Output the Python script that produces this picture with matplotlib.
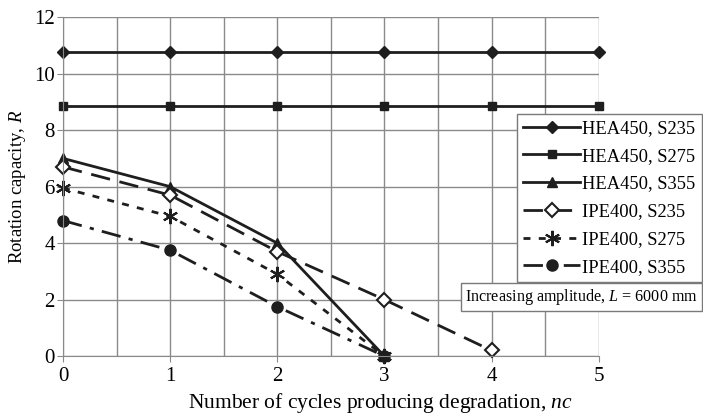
import numpy as np
import matplotlib.pyplot as plt

plt.rcParams['font.family'] = ['Liberation Serif', 'DejaVu Serif']
plt.rcParams['mathtext.fontset'] = 'custom'
plt.rcParams['mathtext.it'] = 'Liberation Serif:italic'
plt.rcParams['mathtext.rm'] = 'Liberation Serif'

# data
nc_hea = [0, 1, 2, 3, 4, 5]
hea_s235 = [10.78, 10.78, 10.78, 10.78, 10.78, 10.78]
hea_s275 = [8.85, 8.85, 8.85, 8.85, 8.85, 8.85]
nc_hea355 = [0, 1, 2, 3]
hea_s355 = [7.0, 6.0, 4.0, 0.0]

nc_ipe235 = [0, 1, 2, 3, 4]
ipe_s235 = [6.7, 5.7, 3.7, 2.0, 0.2]
nc_ipe = [0, 1, 2, 3]
ipe_s275 = [5.95, 4.95, 2.9, 0.0]
ipe_s355 = [4.8, 3.75, 1.75, 0.0]

labels = ['HEA450, S235', 'HEA450, S275', 'HEA450, S355',
          'IPE400, S235', 'IPE400, S275', 'IPE400, S355']

col = '#1e1e1e'
fig = plt.figure(figsize=(7.03, 4.18), dpi=100)
ax = fig.add_axes([0.0896, 0.148, 0.762, 0.811])

lw = 2.0
ax.plot(nc_hea, hea_s235, color=col, lw=lw, marker='D', ms=6, label=labels[0])
ax.plot(nc_hea, hea_s275, color=col, lw=lw, marker='s', ms=6, label=labels[1])
ax.plot(nc_hea355, hea_s355, color=col, lw=lw, marker='^', ms=7, label=labels[2])
ax.plot(nc_ipe235, ipe_s235, color=col, lw=lw, marker='D', ms=7, mfc='white',
        mew=1.5, dashes=(7, 3.5), label=labels[3])
ax.plot(nc_ipe, ipe_s275, color=col, lw=lw, marker=(6, 2, 0), ms=11, mew=1.5,
        dashes=(2.5, 3), label=labels[4])
ax.plot(nc_ipe, ipe_s355, color=col, lw=lw, marker='o', ms=8,
        dashes=(7, 3, 1.5, 3), label=labels[5])

ax.set_xlim(0, 5)
ax.set_ylim(0, 12)
ax.set_xticks(np.arange(0, 6, 1))
ax.set_xticks(np.arange(0, 5.5, 0.5), minor=True)
ax.set_yticks(np.arange(0, 13, 2))
ax.grid(True, which='both', color='#8a8a8a', lw=1.0)
ax.set_axisbelow(True)
ax.tick_params(axis='both', labelsize=15, length=4, color='#8a8a8a', pad=2)
ax.tick_params(axis='x', pad=4)
ax.tick_params(axis='x', which='minor', length=0)
for s in ['top', 'right']:
    ax.spines[s].set_visible(False)
for s in ['left', 'bottom']:
    ax.spines[s].set_color('#8a8a8a')
for ln in ax.lines:
    ln.set_clip_on(False)

ax.set_xlabel('Number of cycles producing degradation, $\\mathit{nc}$', fontsize=15.5)
ax.xaxis.set_label_coords(0.593, -0.103)
ax.set_ylabel('Rotation capacity, $\\mathit{R}$', fontsize=13.5, labelpad=4)

leg = fig.legend(loc='upper left', bbox_to_anchor=(0.735, 0.728), fontsize=13.3,
                 handlelength=3.1, handletextpad=0.1, labelspacing=0.58,
                 borderpad=0.35, borderaxespad=0, fancybox=False, framealpha=1,
                 edgecolor='#7a7a7a')
leg.get_frame().set_linewidth(1.0)

fig.text(0.662, 0.29, 'Increasing amplitude, $\\mathit{L}$ = 6000 mm', fontsize=11.6,
         va='center', ha='left',
         bbox=dict(boxstyle='square,pad=0.25', fc='white', ec='#7a7a7a', lw=1.0))

fig.savefig('out.png', dpi=100)
